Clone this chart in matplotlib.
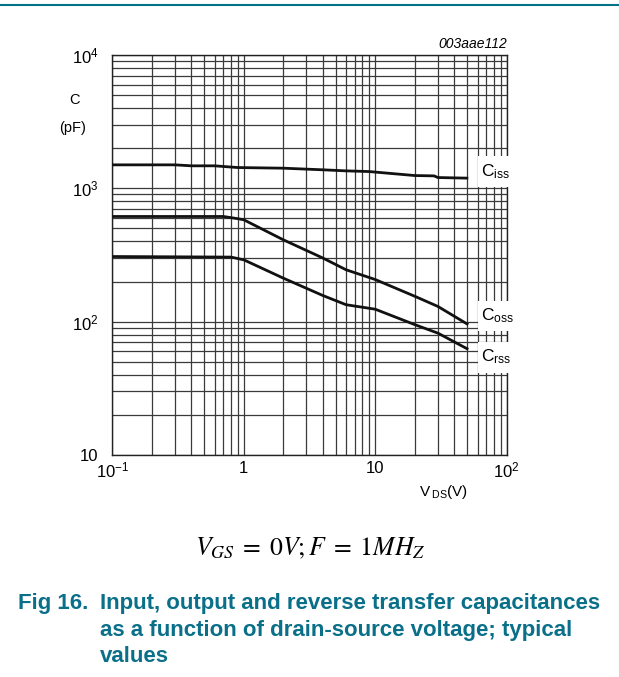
import matplotlib
matplotlib.use("Agg")
import matplotlib.pyplot as plt
from matplotlib.patches import Rectangle
from matplotlib.ticker import FixedLocator, NullFormatter

plt.rcParams['font.family'] = ['Liberation Sans', 'DejaVu Sans']
plt.rcParams['mathtext.fontset'] = 'custom'
plt.rcParams['mathtext.rm'] = 'Liberation Sans'
plt.rcParams['mathtext.it'] = 'Liberation Sans:italic'

# Data
vds_ciss = [0.1, 0.3, 0.4, 0.6, 0.9, 2, 4, 6, 9, 20, 28, 30, 51]
ciss = [1500, 1500, 1475, 1475, 1432, 1416, 1377, 1352, 1336, 1247, 1240, 1205, 1192]

vds_coss = [0.1, 0.7, 0.9, 1.0, 2, 4, 6, 10, 20, 30, 51]
coss = [615, 615, 592, 581, 411, 300, 245, 207, 155, 130, 95]

vds_crss = [0.1, 0.8, 1.0, 2, 4, 6, 10, 20, 30, 51]
crss = [308, 305, 291, 212, 157, 134, 124, 95, 82, 62]

xticks = [0.1, 1, 10, 100]
xticklabels = ['$10^{-1}$', '1', '10', '$10^{2}$']
yticks = [10, 100, 1000, 10000]
yticklabels = ['10', '$10^{2}$', '$10^{3}$', '$10^{4}$']

series_labels = [r'C$_{\rm iss}$', r'C$_{\rm oss}$', r'C$_{\rm rss}$']
label_boxes = [(1026, 1750), (85.7, 143.6), (41.5, 70.8)]

W, H = 619, 677
fig = plt.figure(figsize=(W / 100, H / 100), dpi=100)
ax = fig.add_axes([112.3 / W, 1 - 455 / H, (506.7 - 112.3) / W, 400 / H])
ax.set_xscale('log')
ax.set_yscale('log')
ax.set_xlim(0.1, 100)
ax.set_ylim(10, 10000)

# grid
minor_x = [m * 10.0 ** e for e in (-1, 0, 1) for m in range(2, 10)]
minor_y = [m * 10.0 ** e for e in (1, 2, 3) for m in range(2, 10)]
ax.xaxis.set_major_locator(FixedLocator(xticks))
ax.yaxis.set_major_locator(FixedLocator(yticks))
ax.xaxis.set_minor_locator(FixedLocator(minor_x))
ax.yaxis.set_minor_locator(FixedLocator(minor_y))
ax.xaxis.set_minor_formatter(NullFormatter())
ax.yaxis.set_minor_formatter(NullFormatter())
ax.grid(True, which='both', color='#3a3a3a', linewidth=0.9)
ax.set_axisbelow(True)
ax.tick_params(which='both', length=0)
ax.set_xticklabels(xticklabels, fontsize=12)
ax.set_yticklabels(yticklabels, fontsize=12)
ax.tick_params(axis='x', pad=4)
ax.tick_params(axis='y', pad=10)
for s in ax.spines.values():
    s.set_color('#222222')
    s.set_linewidth(1.0)

for xs, ys in [(vds_ciss, ciss), (vds_coss, coss), (vds_crss, crss)]:
    ax.plot(xs, ys, color='#111111', linewidth=2.0, solid_capstyle='butt', zorder=3)

for lab, (y0, y1) in zip(series_labels, label_boxes):
    ax.add_patch(Rectangle((61, y0), 60, y1 - y0, facecolor='white', edgecolor='none',
                           zorder=5, clip_on=False))
    ax.text(64, (y0 * y1) ** 0.5, lab, fontsize=12.5, va='center', ha='left', zorder=6)

fig.text(74 / W, 1 - 100 / H, 'C', fontsize=10.5, ha='center', va='center')
fig.text(73 / W, 1 - 128 / H, '(pF)', fontsize=10.5, ha='center', va='center')
fig.text(444 / W, 1 - 492 / H, r'V$\,_{\rm DS}$(V)', fontsize=11, ha='center', va='center')
fig.text(507 / W, 1 - 44 / H, '003aae112', fontsize=10, style='italic', ha='right', va='center')

fig.text(310 / W, 1 - 548 / H, r'$V_{GS}\;=\;0V;F\;=\;1MH_{Z}$', fontsize=18.5,
         ha='center', va='center', math_fontfamily='stix')

teal = '#0a6f88'
fig.text(18 / W, 1 - 604 / H, 'Fig 16.', fontsize=16, fontweight='bold', color=teal,
         ha='left', va='center')
cap = ['Input, output and reverse transfer capacitances',
       'as a function of drain-source voltage; typical',
       'values']
for i, line in enumerate(cap):
    fig.text(100 / W, 1 - (604 + 26.5 * i) / H, line, fontsize=16, fontweight='bold',
             color=teal, ha='left', va='center')

fig.add_artist(plt.Line2D([0, 1], [1 - 4.5 / H, 1 - 4.5 / H], color='#007385',
                          linewidth=1.5, transform=fig.transFigure))

fig.savefig('out.png', dpi=100)
